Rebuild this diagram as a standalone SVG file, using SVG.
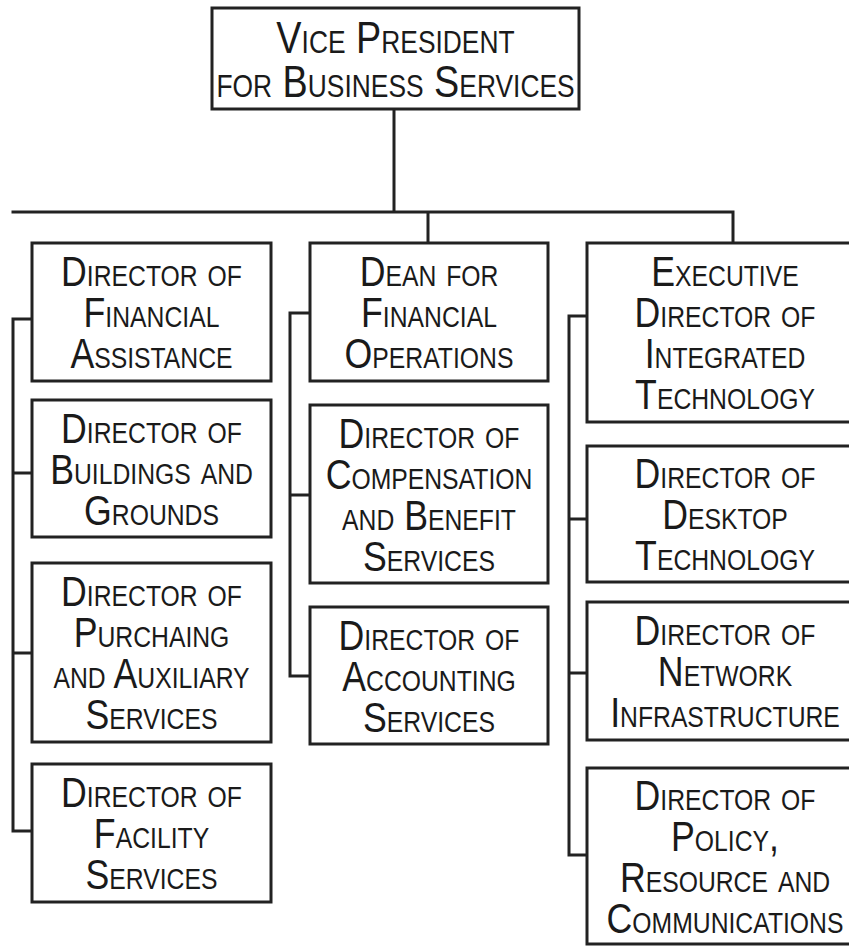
<svg xmlns="http://www.w3.org/2000/svg" width="849" height="946" viewBox="0 0 849 946">
<style>
  .box{fill:#ffffff;stroke:#222222;stroke-width:3}
  .conn{fill:none;stroke:#222222;stroke-width:3;stroke-linejoin:miter;stroke-linecap:square}
  text{font-family:"Liberation Sans",Arial,sans-serif;font-variant:small-caps;fill:#1a1a1a;text-anchor:middle}
  .t{font-size:42px}
  .vp{font-size:45px}
</style>
<rect width="849" height="946" fill="#ffffff"/>
<g id="connectors">
  <path class="conn" d="M394,109 V212 M13,212 H733 M428,212 V243 M733,212 V243"/>
  <path class="conn" d="M32,319 H13 V831 H32 M13,473 H32 M13,653 H32"/>
  <path class="conn" d="M310,313 H290 V676 H310 M290,495 H310"/>
  <path class="conn" d="M587,316 H569 V855 H587 M569,519 H587 M569,673 H587"/>
</g>
<g id="vp">
  <rect class="box" x="212" y="8" width="367" height="101"/>
  <text class="vp" transform="translate(395.5,0) scale(0.84,1)"><tspan x="0" y="53">Vice President</tspan><tspan x="0" y="97">for Business Services</tspan></text>
</g>
<g id="fin-assist">
  <rect class="box" x="32" y="243" width="239" height="138"/>
  <text class="t" transform="translate(151.5,0) scale(0.85,1)"><tspan x="0" y="286">Director of</tspan><tspan x="0" y="327">Financial</tspan><tspan x="0" y="368">Assistance</tspan></text>
</g>
<g id="buildings">
  <rect class="box" x="32" y="400" width="239" height="137"/>
  <text class="t" transform="translate(151.5,0) scale(0.85,1)"><tspan x="0" y="443">Director of</tspan><tspan x="0" y="484">Buildings and</tspan><tspan x="0" y="525">Grounds</tspan></text>
</g>
<g id="purchasing">
  <rect class="box" x="32" y="563" width="239" height="179"/>
  <text class="t" transform="translate(151.5,0) scale(0.85,1)"><tspan x="0" y="606">Director of</tspan><tspan x="0" y="647">Purchaing</tspan><tspan x="0" y="688">and Auxiliary</tspan><tspan x="0" y="729">Services</tspan></text>
</g>
<g id="facility">
  <rect class="box" x="32" y="764" width="239" height="138"/>
  <text class="t" transform="translate(151.5,0) scale(0.85,1)"><tspan x="0" y="807">Director of</tspan><tspan x="0" y="848">Facility</tspan><tspan x="0" y="889">Services</tspan></text>
</g>
<g id="dean">
  <rect class="box" x="310" y="243" width="238" height="138"/>
  <text class="t" transform="translate(429,0) scale(0.85,1)"><tspan x="0" y="286">Dean for</tspan><tspan x="0" y="327">Financial</tspan><tspan x="0" y="368">Operations</tspan></text>
</g>
<g id="compensation">
  <rect class="box" x="310" y="405" width="238" height="178"/>
  <text class="t" transform="translate(429,0) scale(0.85,1)"><tspan x="0" y="448">Director of</tspan><tspan x="0" y="489">Compensation</tspan><tspan x="0" y="530">and Benefit</tspan><tspan x="0" y="571">Services</tspan></text>
</g>
<g id="accounting">
  <rect class="box" x="310" y="607" width="238" height="137"/>
  <text class="t" transform="translate(429,0) scale(0.85,1)"><tspan x="0" y="650">Director of</tspan><tspan x="0" y="691">Accounting</tspan><tspan x="0" y="732">Services</tspan></text>
</g>
<g id="exec-it">
  <rect class="box" x="587" y="243" width="276" height="179"/>
  <text class="t" transform="translate(725,0) scale(0.85,1)"><tspan x="0" y="286">Executive</tspan><tspan x="0" y="327">Director of</tspan><tspan x="0" y="368">Integrated</tspan><tspan x="0" y="409">Technology</tspan></text>
</g>
<g id="desktop">
  <rect class="box" x="587" y="446" width="276" height="136"/>
  <text class="t" transform="translate(725,0) scale(0.85,1)"><tspan x="0" y="488">Director of</tspan><tspan x="0" y="529">Desktop</tspan><tspan x="0" y="570">Technology</tspan></text>
</g>
<g id="network">
  <rect class="box" x="587" y="602" width="276" height="138"/>
  <text class="t" transform="translate(725,0) scale(0.85,1)"><tspan x="0" y="645">Director of</tspan><tspan x="0" y="686">Network</tspan><tspan x="0" y="727">Infrastructure</tspan></text>
</g>
<g id="policy">
  <rect class="box" x="587" y="768" width="276" height="176"/>
  <text class="t" transform="translate(725,0) scale(0.85,1)"><tspan x="0" y="810">Director of</tspan><tspan x="0" y="851">Policy,</tspan><tspan x="0" y="892">Resource and</tspan><tspan x="0" y="933">Communications</tspan></text>
</g>
</svg>
